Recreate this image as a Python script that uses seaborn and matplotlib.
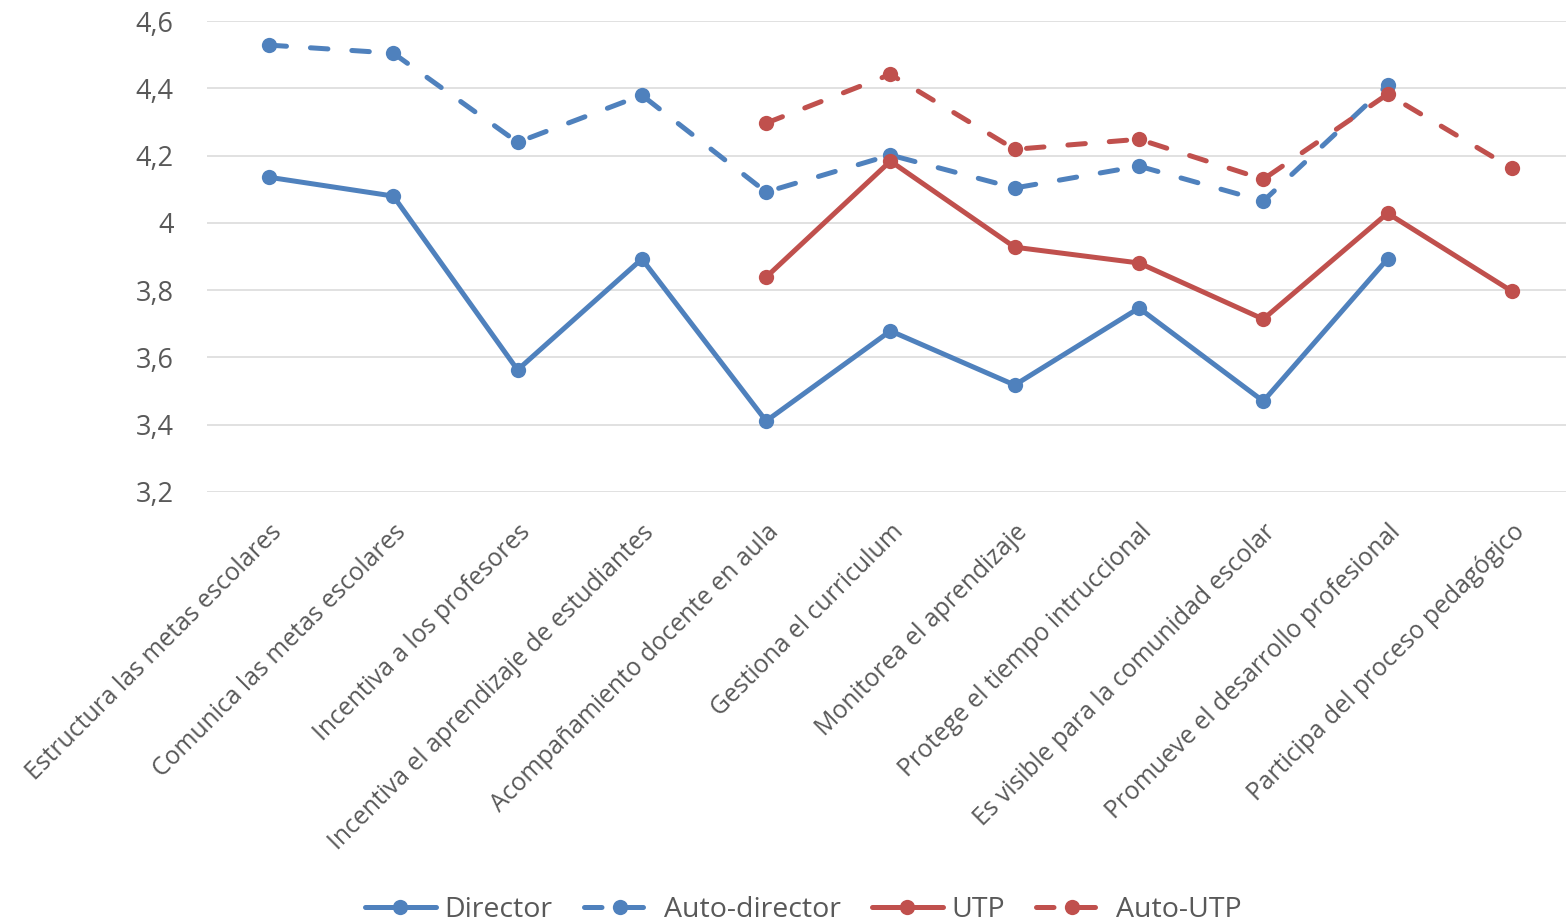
import numpy as np
import pandas as pd
import matplotlib
matplotlib.use("Agg")
import matplotlib.pyplot as plt
import seaborn as sns

# ---- data ----
categories = [
    "Estructura las metas escolares",
    "Comunica las metas escolares",
    "Incentiva a los profesores",
    "Incentiva el aprendizaje de estudiantes",
    "Acompañamiento docente en aula",
    "Gestiona el curriculum",
    "Monitorea el aprendizaje",
    "Protege el tiempo intruccional",
    "Es visible para la comunidad escolar",
    "Promueve el desarrollo profesional",
    "Participa del proceso pedagógico",
]
director = [4.136, 4.080, 3.563, 3.893, 3.411, 3.679, 3.518, 3.747, 3.470, 3.893, np.nan]
auto_director = [4.529, 4.505, 4.240, 4.380, 4.092, 4.202, 4.104, 4.169, 4.065, 4.410, np.nan]
utp = [np.nan, np.nan, np.nan, np.nan, 3.839, 4.184, 3.928, 3.881, 3.714, 4.029, 3.797]
auto_utp = [np.nan, np.nan, np.nan, np.nan, 4.297, 4.442, 4.219, 4.249, 4.130, 4.383, 4.163]

series_names = ["Director", "Auto-director", "UTP", "Auto-UTP"]
series_values = [director, auto_director, utp, auto_utp]

BLUE = "#4F81BD"
RED = "#C0504D"
TEXT = "#595959"
styles = {
    "Director": dict(color=BLUE, linestyle="-"),
    "Auto-director": dict(color=BLUE, linestyle=(0, (3.5, 4.8))),
    "UTP": dict(color=RED, linestyle="-"),
    "Auto-UTP": dict(color=RED, linestyle=(0, (3.5, 4.8))),
}

sns.set_style("white")
plt.rcParams["font.family"] = ["Open Sans", "DejaVu Sans"]
plt.rcParams["text.color"] = TEXT
plt.rcParams["xtick.color"] = TEXT
plt.rcParams["ytick.color"] = TEXT

fig = plt.figure(figsize=(15.66, 9.23), dpi=100)
ax = fig.add_axes([0.1321, 0.467, 0.873, 0.510])

x_pos = np.arange(len(categories))
for name, vals in zip(series_names, series_values):
    df = pd.DataFrame({"x": x_pos, "y": vals}).dropna()
    sns.lineplot(data=df, x="x", y="y", ax=ax, label=name,
                 marker="o", markersize=11, markeredgewidth=0,
                 linewidth=3.6, solid_capstyle="round", dash_capstyle="round",
                 **styles[name])

yticks = np.arange(3.2, 4.61, 0.2)
ax.set_xlim(-0.5, len(categories) - 0.5)
ax.set_ylim(3.2, 4.6)
ax.set_yticks(yticks)
ax.set_yticklabels([f"{v:.1f}".replace(".", ",").replace(",0", "") for v in yticks])
ax.set_xticks(x_pos)
ax.set_xticklabels(categories, rotation=45, ha="right", rotation_mode="anchor", fontsize=17.8)
ax.tick_params(axis="y", labelsize=19.5, length=0, pad=24)
ax.tick_params(axis="x", length=0, pad=20)
ax.grid(axis="y", color="#D9D9D9", linewidth=1.1)
ax.set_axisbelow(True)
for s in ax.spines.values():
    s.set_visible(False)
ax.set_xlabel("")
ax.set_ylabel("")

handles, labels = ax.get_legend_handles_labels()
ax.get_legend().remove()
fig.legend(handles, labels, loc="center", bbox_to_anchor=(0.513, 0.014), ncol=4,
           frameon=False, fontsize=20.5, handlelength=2.5, handletextpad=0.3,
           columnspacing=1.1)

fig.savefig("out.png", dpi=100)
